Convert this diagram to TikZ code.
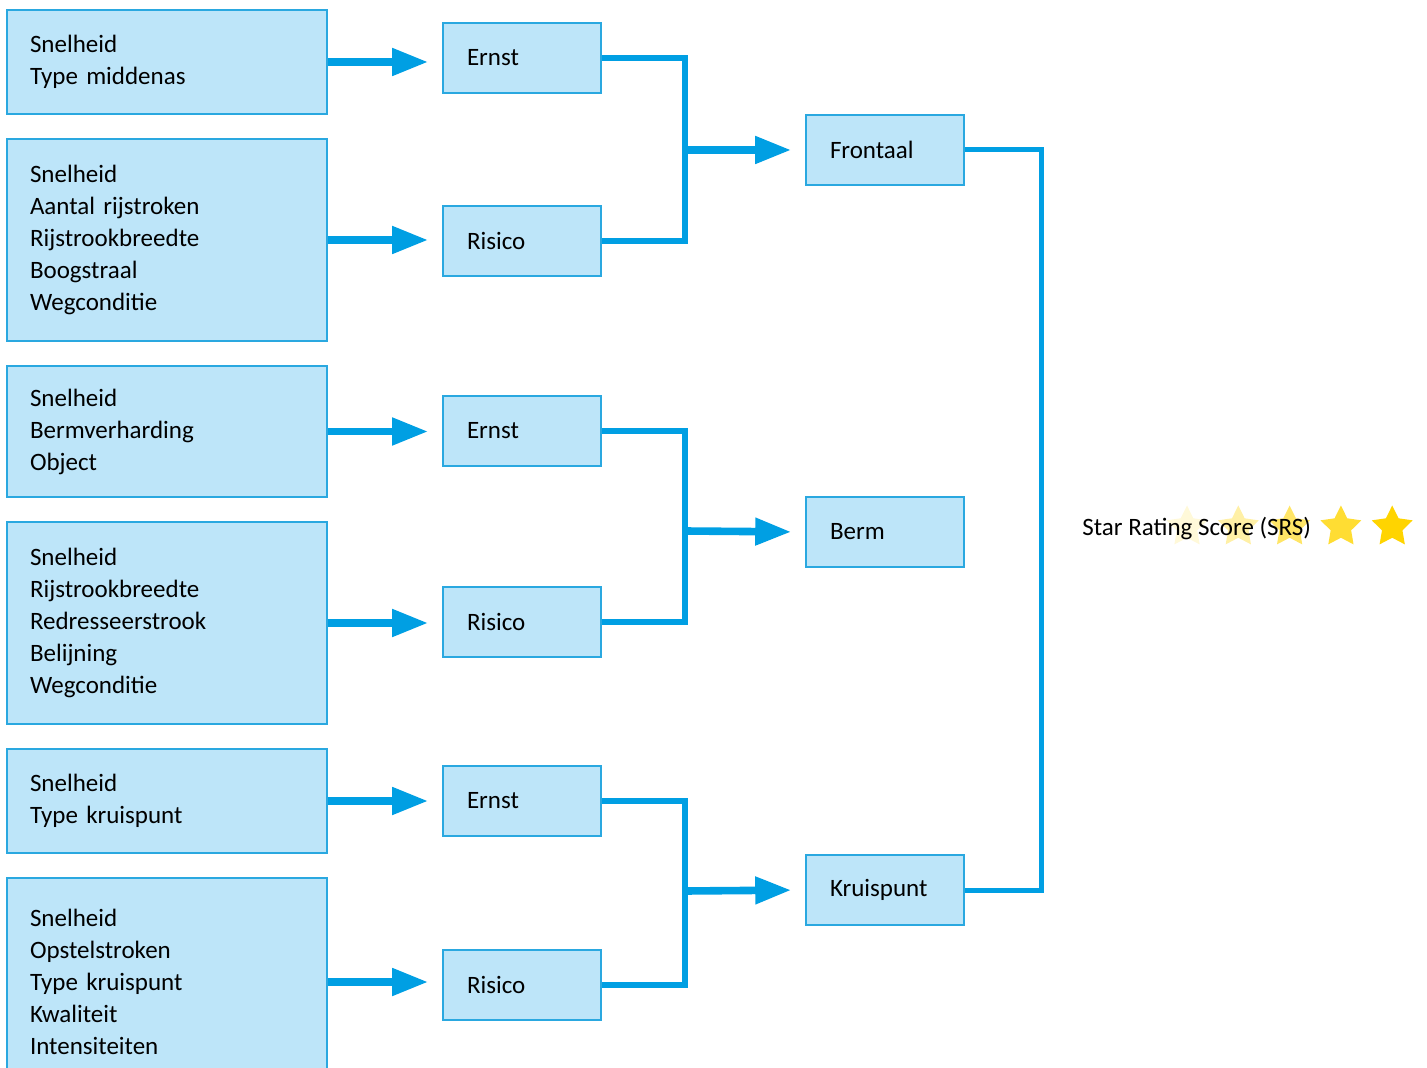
\documentclass[tikz,border=0pt]{standalone}
\usepackage{fontspec}
\setmainfont{Carlito}
\usepackage{tikz}
\usetikzlibrary{shapes.geometric, arrows.meta}

\definecolor{boxfill}{HTML}{BDE5F9}
\definecolor{boxline}{HTML}{2AA8E0}
\definecolor{linkblue}{HTML}{009FE3}
\definecolor{stargold}{HTML}{FFD400}

\tikzset{
  factorbox/.style={draw=boxline, line width=0.8pt, fill=boxfill, align=left,
    text width=137pt, inner xsep=11.5pt, font=\fontsize{12.5}{16}\selectfont},
  scorebox/.style={draw=boxline, line width=0.8pt, fill=boxfill, align=left,
    text width=55pt, inner xsep=12pt, minimum height=35pt, font=\fontsize{12.5}{16}\selectfont},
  feed/.style={draw=linkblue, line width=3.8pt, shorten >=7pt,
    -{Triangle[length=18pt, width=13pt]}},
  link/.style={draw=linkblue, line width=3pt},
  starmark/.style={star, star points=5, star point ratio=2.0, minimum size=21.5pt,
    inner sep=0pt, fill=stargold, draw=none}
}

\begin{document}
\begin{tikzpicture}[x=0.5pt, y=-0.5pt]
  \useasboundingbox (0,0) rectangle (1427,1068);
  \clip (0,0) rectangle (1427,1068);

  % factor boxes
  \node[factorbox, minimum height=52pt] (f1) at (167,62) {Snelheid\\Type middenas};
  \node[factorbox, minimum height=101pt] (f2) at (167,240) {Snelheid\\Aantal rijstroken\\Rijstrookbreedte\\Boogstraal\\Wegconditie};
  \node[factorbox, minimum height=65.5pt] (f3) at (167,431.5) {Snelheid\\Bermverharding\\Object};
  \node[factorbox, minimum height=101pt] (f4) at (167,623) {Snelheid\\Rijstrookbreedte\\Redresseerstrook\\Belijning\\Wegconditie};
  \node[factorbox, minimum height=52pt] (f5) at (167,801) {Snelheid\\Type kruispunt};
  \node[factorbox, minimum height=104pt] (f6) at (167,982) {Snelheid\\Opstelstroken\\Type kruispunt\\Kwaliteit\\Intensiteiten};

  % ernst / risico
  \node[scorebox] (e1) at (522,58) {Ernst};
  \node[scorebox] (r1) at (522,241) {Risico};
  \node[scorebox] (e2) at (522,431) {Ernst};
  \node[scorebox] (r2) at (522,622) {Risico};
  \node[scorebox] (e3) at (522,801) {Ernst};
  \node[scorebox] (r3) at (522,985) {Risico};

  % crash types
  \node[scorebox] (front) at (885,150) {Frontaal};
  \node[scorebox] (berm) at (885,532) {Berm};
  \node[scorebox] (kruis) at (885,890) {Kruispunt};

  \foreach \f/\t in {f1/e1, f2/r1, f3/e2, f4/r2, f5/e3, f6/r3}
    \draw[feed] (\f.east) -- (\f.east -| \t.west);

  \coordinate (j1) at (685,150);
  \coordinate (j2) at (685,531);
  \coordinate (j3) at (685,891);
  \draw[link] (e1.east) -| (j1) |- (r1.east);
  \draw[link] (e2.east) -| (j2) |- (r2.east);
  \draw[link] (e3.east) -| (j3) |- (r3.east);
  \draw[feed] (j1) -- (front.west);
  \draw[feed] (j2) -- (berm.west);
  \draw[feed] (j3) -- (kruis.west);

  \coordinate (jr) at (1041,150);
  \draw[link, line width=2.5pt] (front.east) -| (jr) |- (kruis.east);

  % score with stars
  \foreach \i/\op in {0/0.15, 1/0.35, 2/0.6, 3/0.8, 4/1}
    \node[starmark, fill opacity=\op] (s\i) at (1187+51.3*\i,527) {};
  \node[anchor=west, inner sep=0pt, font=\fontsize{12.5}{16}\selectfont] (srs) at (1082,529) {Star Rating Score (SRS)};
\end{tikzpicture}
\end{document}
